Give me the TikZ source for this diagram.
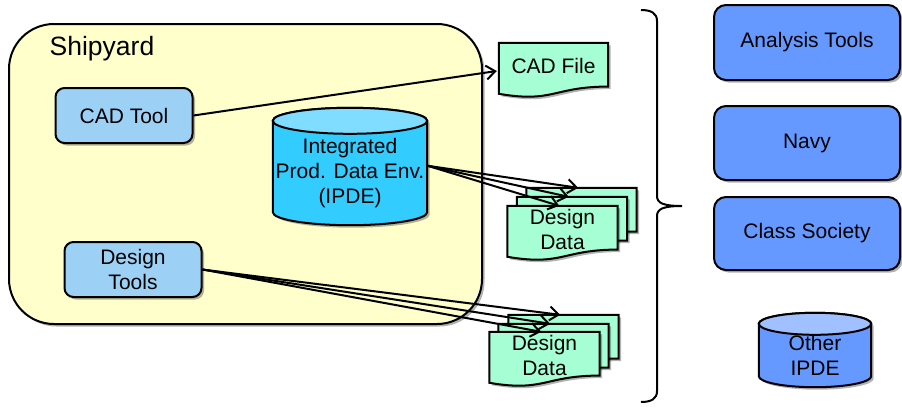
\documentclass[tikz,border=0pt]{standalone}
\usepackage{fontspec}
\setmainfont{Liberation Sans}
\usetikzlibrary{arrows.meta,calc,shadows,backgrounds}

\definecolor{yardfill}{RGB}{255,255,204}
\definecolor{toolblue}{RGB}{157,208,245}
\definecolor{ipdeside}{RGB}{51,204,255}
\definecolor{ipdetop}{RGB}{128,221,255}
\definecolor{sheetgreen}{RGB}{166,255,212}
\definecolor{partyblue}{RGB}{102,153,255}
\definecolor{partytop}{RGB}{160,192,255}

% Cylinder drawn round a node: the node spans from the centre of the
% top cap down to the lowest point of the base.
% #1 node, #2 cap half-height (pt), #3 side colour, #4 cap colour
\newcommand\cylshape[4]{%
  \path[outline, shade, fill=#3] let \p1=(#1.north west), \p2=(#1.south east) in
    (\x1,\y1) -- (\x1,{\y2+#2pt})
    arc[start angle=180, end angle=360, x radius={(\x2-\x1)/2}, y radius=#2pt]
    -- (\x2,\y1)
    arc[start angle=0, end angle=180, x radius={(\x2-\x1)/2}, y radius=#2pt]
    -- cycle;
  \path[outline, fill=#4] let \p1=(#1.north west), \p2=(#1.south east) in
    ({(\x1+\x2)/2},\y1) ellipse[x radius={(\x2-\x1)/2}, y radius=#2pt];
}

% Document sheet with a wavy lower edge; the node covers the upper 85%.
\newcommand\docshape[1]{%
  \path[sheetline] let \p1=(#1.north west), \p2=(#1.south east),
      \n1={(\y1-\y2)/0.85} in
    (\x1,\y1) -- (\x2,\y1) -- (\x2,{\y1-0.802*\n1})
    .. controls ({(\x1+\x2)/2},{\y1-0.802*\n1}) and ({(\x1+\x2)/2},{\y1-1.107*\n1})
    .. (\x1,{\y1-0.934*\n1}) -- cycle;
}

\begin{document}
\begin{tikzpicture}[x=1pt,y=-1pt,
  every node/.style={font=\fontsize{21}{25}\selectfont, align=center, inner sep=0pt},
  outline/.style={draw=black, line width=2pt},
  shade/.style={drop shadow={shadow xshift=2.5pt, shadow yshift=-2.5pt, opacity=0.3, fill=black}},
  yard/.style={outline, shade, fill=yardfill, rounded corners=45pt,
    minimum width=473pt, minimum height=300pt},
  toolbox/.style={outline, shade, fill=toolblue, rounded corners=9pt,
    minimum width=137pt, minimum height=55pt},
  partybox/.style={outline, shade, fill=partyblue, rounded corners=12pt,
    minimum width=186pt},
  sheet/.style={minimum width=110pt, minimum height=46pt},
  sheetline/.style={outline, shade, fill=sheetgreen},
  flow/.style={line width=2pt, -{Straight Barb[length=9pt,width=14pt]}},
]
\useasboundingbox (0,0) rectangle (902,410);

% Shipyard frame
\begin{scope}[on background layer]
  \node[yard] (yard) at (245.5,174) {};
\end{scope}
\node[font=\fontsize{26.5}{30}\selectfont] (yardlabel) at (102,49) {Shipyard};

% Shipyard tools and data environment
\node[toolbox] (cadtool) at (124,115.5) {CAD Tool};
\node[toolbox] (dtools) at (133,269.5) {Design\\Tools};
\node[minimum width=154pt, minimum height=104pt] (ipde) at (350,173)
  {Integrated\\Prod. Data Env.\\(IPDE)};

% Exchanged documents
\node[sheet, minimum width=109pt] (cadfile) at (553.5,66) {CAD File};
\node[sheet] (dda3) at (581.5,211) {};
\node[sheet] (dda2) at (572,220) {};
\node[sheet] (dda1) at (562.5,229) {Design\\Data};
\node[sheet] (ddb3) at (563.5,338) {};
\node[sheet] (ddb2) at (553.5,347) {};
\node[sheet] (ddb1) at (544.5,355) {Design\\Data};

% External parties
\node[partybox, minimum height=75pt] (analysis) at (807,42.5) {Analysis Tools};
\node[partybox, minimum height=74pt] (navy) at (807,143) {Navy};
\node[partybox, minimum height=73pt] (classsoc) at (807,233.5) {Class Society};
\node[minimum width=112pt, minimum height=63pt] (otheripde) at (815,355.5) {Other\\IPDE};

\begin{scope}[on background layer]
  \cylshape{ipde}{13}{ipdeside}{ipdetop}
  \cylshape{otheripde}{11}{partyblue}{partytop}
  \docshape{cadfile}
  \docshape{dda3}
  \docshape{dda2}
  \docshape{dda1}
  \docshape{ddb3}
  \docshape{ddb2}
  \docshape{ddb1}
\end{scope}

% Data flows
\draw[flow] (cadtool.east) -- ($(cadfile.west)+(-2,5)$);
\foreach \s in {dda3,dda2,dda1}
  \draw[flow] ($(ipde.north east)!0.43!(ipde.south east)$)
    -- ($(\s.north west)!0.47!(\s.north east)$);
\foreach \s in {ddb3,ddb2,ddb1}
  \draw[flow] (dtools.east) -- ($(\s.north west)!0.47!(\s.north east)$);

% Brace gathering the exchanges
\draw[line width=2pt]
  (641,10) .. controls (651,10) and (657,13) .. (657,21)
  -- (657,196) .. controls (657,203) and (663,206) .. (682,206)
  .. controls (663,206) and (657,209) .. (657,216)
  -- (657,391) .. controls (657,399) and (651,402) .. (641,402);
\end{tikzpicture}
\end{document}
